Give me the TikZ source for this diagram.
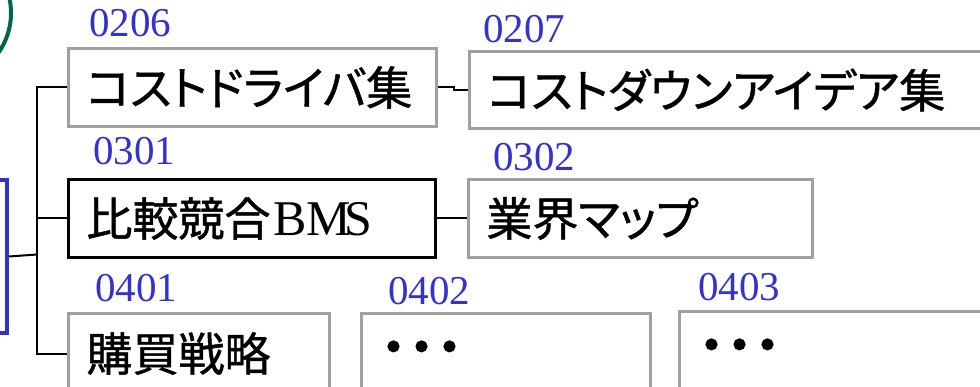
\documentclass[tikz,border=0pt]{standalone}
\usepackage{fontspec}
\setmainfont{Liberation Serif}
\newfontfamily\jpfont[RawFeature=+palt, FakeBold=1]{Noto Sans CJK JP}
\newfontfamily\jpdotfont[FakeBold=2]{Noto Sans CJK JP}
\definecolor{lblblue}{RGB}{51,51,204}
\definecolor{boxgray}{RGB}{160,160,160}
\definecolor{greenc}{RGB}{0,102,76}
\begin{document}
\begin{tikzpicture}[x=1pt,y=-1pt,
  box/.style={draw=boxgray, line width=3pt, anchor=north west, inner xsep=18pt, inner ysep=0pt,
    align=left, font=\jpfont\fontsize{46}{50}\selectfont, minimum height=78pt},
  dotbox/.style={box, font=\jpdotfont\fontsize{52}{54}\selectfont, inner xsep=6pt},
  lbl/.style={text=lblblue, font=\fontsize{41}{41}\selectfont, anchor=base west, inner sep=0pt},
  link/.style={line width=2pt, black}]
\path[use as bounding box, fill=white] (0,0) rectangle (980,387);
\clip (0,0) rectangle (980,387);
% green circle
\draw[greenc, line width=4pt] (-58,13) circle (69);
% blue box
\node[draw=lblblue, line width=4pt, anchor=north east, minimum width=60pt, minimum height=153pt, inner sep=0pt] (bluebox) at (9,178) {};
% boxes
\node[box, text width=332pt] (b0206) at (67,47) {コストドライバ集};
\node[box, text width=496pt, minimum height=77pt] (b0207) at (468,50) {コストダウンアイデア集};
\node[box, draw=black, text width=331pt] (b0301) at (67,178) {比較競合{\rmfamily\fontsize{50}{50}\selectfont\kern3pt BM\kern-7pt S}};
\node[box, text width=308pt] (b0302) at (467,178) {業界マップ};
\node[box, text width=225pt, minimum height=80pt] (b0401) at (67,312) {購買戦略};
\node[dotbox, text width=277pt, minimum height=80pt] (b0402) at (360,312) {・\kern-24pt・\kern-24pt・};
\node[dotbox, text width=320pt, minimum height=80pt] (b0403) at (678,310) {・\kern-24pt・\kern-24pt・};
% labels
\node[lbl] (l0206) at (89,37) {0206};
\node[lbl] (l0207) at (483,43) {0207};
\node[lbl] (l0301) at (93,165) {0301};
\node[lbl] (l0302) at (493,171) {0302};
\node[lbl] (l0401) at (95,302) {0401};
\node[lbl] (l0402) at (388,305) {0402};
\node[lbl] (l0403) at (698,301) {0403};
% connectors
\coordinate (jn) at (37,254.5);
\draw[link] (bluebox.east) -- (jn);
\draw[link] (b0206.west) -- (b0206.west -| jn) -- (b0401.west -| jn) -- (b0401.west);
\draw[link] (b0301.west) -- (b0301.west -| jn);
\draw[link] (b0206.east) -- ++(16,0) |- (b0207.west);
\draw[link] (b0301.east) -- (b0302.west);
\end{tikzpicture}
\end{document}
